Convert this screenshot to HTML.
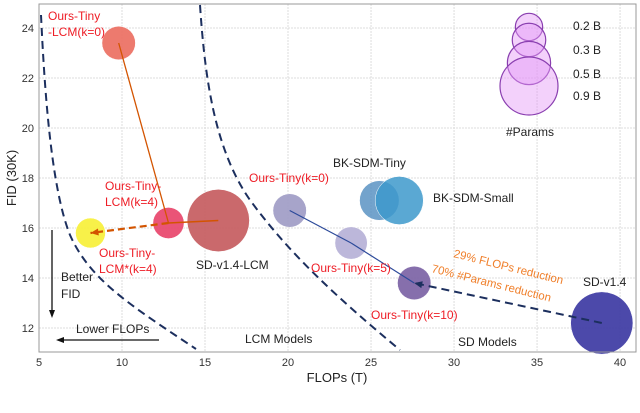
<!DOCTYPE html>
<html><head><meta charset="utf-8"><style>
html,body{margin:0;padding:0;background:#fff;width:640px;height:413px;overflow:hidden}
svg{display:block;font-family:"Liberation Sans","DejaVu Sans",sans-serif}
</style></head><body>
<svg id="chart" width="640" height="413" viewBox="0 0 640 413" xmlns="http://www.w3.org/2000/svg">
<g id="grid"></g>
<g id="curves"></g>
<g id="marks"></g>
<g id="arrows"></g>
<g id="labels"></g>
<g id="axes"></g>
</svg>
<script>
const xTicks=[5,10,15,20,25,30,35,40];
const yTicks=[12,14,16,18,20,22,24];
const names=["Ours-Tiny-LCM(k=0)","Ours-Tiny-LCM(k=4)","Ours-Tiny-LCM*(k=4)","SD-v1.4-LCM","Ours-Tiny(k=0)","Ours-Tiny(k=5)","Ours-Tiny(k=10)","BK-SDM-Tiny","BK-SDM-Small","SD-v1.4"];
const flops=[9.8,12.8,8.1,15.8,20.1,23.8,27.6,25.5,26.7,38.9];
const fid=[23.4,16.2,15.8,16.3,16.7,15.4,13.8,17.1,17.1,12.2];
const params=[0.3,0.26,0.24,1.04,0.3,0.28,0.3,0.42,0.62,1.04];
const colors=["#ec6f62","#e8456b","#f7f03a","#c65c60","#9f9cc6","#b6b1d7","#7c63a5","#5b93c3","#3d99cb","#3d3aa3"];
const legendVals=[0.2,0.3,0.5,0.9];
const legendLabels=["0.2 B","0.3 B","0.5 B","0.9 B"];

const X0=39,X1=636,Y0=4,Y1=352;
const xmin=5,xmax=40.96,ymin=11.04,ymax=24.96;
const sx=v=>X0+(v-xmin)/(xmax-xmin)*(X1-X0);
const sy=v=>Y1-(v-ymin)/(ymax-ymin)*(Y1-Y0);
const rr=p=>29*Math.sqrt(p/0.9);
const NS="http://www.w3.org/2000/svg";
function mk(tag,attrs,parent,text){const e=document.createElementNS(NS,tag);for(const k in attrs)e.setAttribute(k,attrs[k]);if(text!=null)e.textContent=text;document.getElementById(parent).appendChild(e);return e;}

xTicks.forEach(t=>{
 const g=mk("line",{x1:sx(t),x2:sx(t),y1:Y0,y2:Y1,stroke:"#ddd","stroke-dasharray":"2,1","stroke-width":1},"grid");
 
 
 const l=mk("text",{x:sx(t),y:366,"text-anchor":"middle","font-size":11,fill:"#333"},"axes",String(t));
 
 
});
yTicks.forEach(t=>{
 const g=mk("line",{x1:X0,x2:X1,y1:sy(t),y2:sy(t),stroke:"#ddd","stroke-dasharray":"2,1","stroke-width":1},"grid");
 
 
 const l=mk("text",{x:34,y:sy(t)+4,"text-anchor":"end","font-size":11,fill:"#333"},"axes",String(t));
 
 
});
let fr=mk("rect",{x:X0,y:Y0,width:X1-X0,height:Y1-Y0,fill:"none",stroke:"#999","stroke-width":1},"axes");


let xt=mk("text",{x:337,y:382,"text-anchor":"middle","font-size":13,fill:"#222"},"axes","FLOPs (T)");


let yt=mk("text",{x:16,y:178,"text-anchor":"middle","font-size":13,fill:"#222",transform:"rotate(-90 16 178)"},"axes","FID (30K)");



let c1=mk("path",{d:"M41,15 C45,100 52,190 70,235 C90,280 130,305 196,349",fill:"none",stroke:"#1c2f5e","stroke-width":2,"stroke-dasharray":"8,5"},"curves");


let c2=mk("path",{d:"M200,5 C205,80 215,150 250,200 C290,255 340,300 400,350",fill:"none",stroke:"#1c2f5e","stroke-width":2,"stroke-dasharray":"8,5"},"curves");



flops.forEach((f,i)=>{
 const c=mk("circle",{cx:sx(f),cy:sy(fid[i]),r:rr(params[i]),fill:colors[i],"fill-opacity":i>=7&&i<=8?0.85:0.92,stroke:"#fff","stroke-width":0.5},"marks");
 
 
});

function ln(a,b,col,w,dash,name){const e=mk("line",{x1:sx(flops[a]),y1:sy(fid[a]),x2:sx(flops[b]),y2:sy(fid[b]),stroke:col,"stroke-width":w,"stroke-dasharray":dash||"none"},"arrows");return e;}
ln(0,1,"#d35400",1.3,null,"lcm-k0-to-k4-line");
ln(3,1,"#d35400",1.5,null,"sd-lcm-to-k4-line");
ln(1,2,"#d35400",2.2,"7,4","k4-to-star-arrow");
ln(4,5,"#2c4a9a",1.2,null,"tiny-k0-to-k5-line");
ln(5,6,"#2c4a9a",1.2,null,"tiny-k5-to-k10-line");
ln(9,6,"#1c2f5e",2,"8,5","sd-to-k10-arrow");
function head(x,y,dx,dy,col){const L=Math.hypot(dx,dy);const ux=dx/L,uy=dy/L;const p=[[x,y],[x-ux*8-uy*3.5,y-uy*8+ux*3.5],[x-ux*8+uy*3.5,y-uy*8-ux*3.5]];const e=mk("polygon",{points:p.map(q=>q.join(",")).join(" "),fill:col},"arrows");}
head(sx(flops[2]),sy(fid[2]),sx(flops[2])-sx(flops[1]),sy(fid[2])-sy(fid[1]),"#d35400");
head(sx(flops[6]),sy(fid[6]),sx(flops[6])-sx(flops[9]),sy(fid[6])-sy(fid[9]),"#1c2f5e");
let a1=mk("line",{x1:52,y1:230,x2:52,y2:312,stroke:"#111","stroke-width":1.3},"arrows");
let h1=mk("polygon",{points:"49,310 55,310 52,318",fill:"#111"},"arrows");
let a2=mk("line",{x1:159,y1:340,x2:62,y2:340,stroke:"#111","stroke-width":1.3},"arrows");
let h2=mk("polygon",{points:"64,337 64,343 56,340",fill:"#111"},"arrows");

function tx(x,y,s,col,name,size,extra){const e=mk("text",Object.assign({x:x,y:y,"font-size":size||12,fill:col},extra||{}),"labels",s);return e;}
const red="#ee1c25";
tx(48,20,"Ours-Tiny",red,"label-lcm-k0-line1");
tx(48,36,"-LCM(k=0)",red,"label-lcm-k0-line2");
tx(105,190,"Ours-Tiny-",red,"label-lcm-k4-line1");
tx(105,206,"LCM(k=4)",red,"label-lcm-k4-line2");
tx(99,257,"Ours-Tiny-",red,"label-lcm-star-line1");
tx(99,273,"LCM*(k=4)",red,"label-lcm-star-line2");
tx(196,269,"SD-v1.4-LCM","#222","label-sd-lcm");
tx(249,182,"Ours-Tiny(k=0)",red,"label-tiny-k0");
tx(311,272,"Ours-Tiny(k=5)",red,"label-tiny-k5");
tx(371,319,"Ours-Tiny(k=10)",red,"label-tiny-k10");
tx(333,167,"BK-SDM-Tiny","#222","label-bk-tiny");
tx(433,202,"BK-SDM-Small","#222","label-bk-small");
tx(583,286,"SD-v1.4","#222","label-sd");
tx(61,281,"Better","#222","label-better");
tx(61,298,"FID","#222","label-fid");
tx(76,333,"Lower FLOPs","#222","label-lower-flops");
tx(245,343,"LCM Models","#222","label-lcm-models");
tx(458,346,"SD Models","#222","label-sd-models");
tx(453,257,"29% FLOPs reduction","#f07f2a","label-flops-reduction",11.5,{transform:"rotate(14 453 257)"});
tx(431,272,"70% #Params reduction","#f07f2a","label-params-reduction",11.5,{transform:"rotate(14 431 272)"});

// size legend
const legendCy=[27,40,63,86];
legendVals.forEach((v,i)=>{
 const r=rr(v);
 const c=mk("circle",{cx:529,cy:legendCy[i],r:r,fill:"#e49af7","fill-opacity":0.45,stroke:"#8a3fb0","stroke-width":1.2},"labels");
 
 
 tx(573,[30,54,78,100][i],legendLabels[i],"#222","size-legend-label");
});
tx(506,136,"#Params","#222","size-legend-title");
</script>
</body></html>
